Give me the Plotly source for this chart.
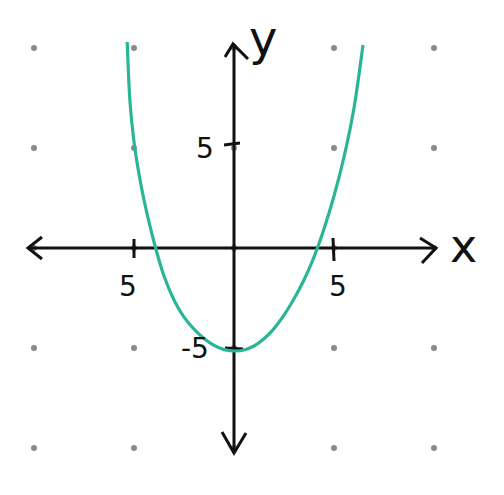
import plotly.graph_objects as go

# grid of dots (every 5 units)
dot_vals = [-10, -5, 0, 5, 10]

# curve
curve_x = [-5.34, -5.2, -5.0, -4.75, -4.5, -4.0, -3.5, -3.0, -2.5, -2.0, -1.5, -1.0, -0.5,
           0.1, 0.5, 1.0, 1.5, 2.0, 2.5, 3.0, 3.5, 4.0, 4.5, 5.0, 5.5, 6.0, 6.45]
curve_y = [10.3, 7.3, 5.3, 3.7, 2.4, 0.3, -1.4, -2.6, -3.46, -4.06, -4.53, -4.87, -5.08,
           -5.15, -5.1, -4.9, -4.54, -4.03, -3.36, -2.54, -1.6, -0.45, 0.95, 2.6, 4.55, 7.0, 10.15]

# tick labels
x_tick_vals = [-5, 5]
x_tick_text = ["5", "5"]
y_tick_vals = [5, -5]
y_tick_text = ["5", "-5"]

BLACK = "#111111"
TEAL = "#2bb597"

fig = go.Figure()

dx = [x for x in dot_vals for _ in dot_vals]
dy = [y for _ in dot_vals for y in dot_vals]
fig.add_trace(go.Scatter(x=dx, y=dy, mode="markers",
                         marker=dict(size=6, color="#8a8a8a"), hoverinfo="skip"))

def seg(xs, ys, w=3):
    fig.add_trace(go.Scatter(x=xs, y=ys, mode="lines",
                             line=dict(color=BLACK, width=w), hoverinfo="skip"))

# axes
seg([-10.3, 10.1], [0, 0])
seg([0, 0], [-10.25, 10.2])
# arrowheads
seg([-9.6, -10.3, -9.6], [0.55, 0, -0.55])
seg([9.3, 10.1, 9.4], [0.5, 0, -0.75])
seg([-0.45, -0.05, 0.7], [9.55, 10.2, 9.45])
seg([-0.6, 0, 0.6], [-9.2, -10.25, -9.25])
# ticks
seg([-5, -5], [0.45, -0.5])
seg([4.95, 5.0], [0.5, -0.65])
seg([-0.5, 0.3], [5.15, 5.25])
seg([-0.45, 0.45], [-5.0, -5.05])

fig.add_trace(go.Scatter(x=curve_x, y=curve_y, mode="lines",
                         line=dict(color=TEAL, width=3.2, shape="spline", smoothing=0.8),
                         hoverinfo="skip"))

font_num = dict(family="DejaVu Sans", size=28, color=BLACK)
for v, t in zip(x_tick_vals, x_tick_text):
    fig.add_annotation(x=v + (-0.3 if v < 0 else 0.2), y=-1.9, text=t, showarrow=False, font=font_num)
for v, t in zip(y_tick_vals, y_tick_text):
    fig.add_annotation(x=-1.45 if v > 0 else -1.95, y=v, text=t, showarrow=False, font=font_num)

fig.add_annotation(x=1.45, y=10.5, text="y", showarrow=False,
                   font=dict(family="DejaVu Sans", size=48, color=BLACK))
fig.add_annotation(x=11.45, y=0.1, text="x", showarrow=False,
                   font=dict(family="DejaVu Sans", size=46, color=BLACK))

fig.update_layout(
    width=504, height=495,
    margin=dict(l=0, r=0, t=0, b=0),
    paper_bgcolor="white", plot_bgcolor="white",
    showlegend=False,
    xaxis=dict(range=[-11.3, 13.9], visible=False, fixedrange=True),
    yaxis=dict(range=[-12.75, 12.0], visible=False, fixedrange=True),
)
fig.write_html("out.html")
